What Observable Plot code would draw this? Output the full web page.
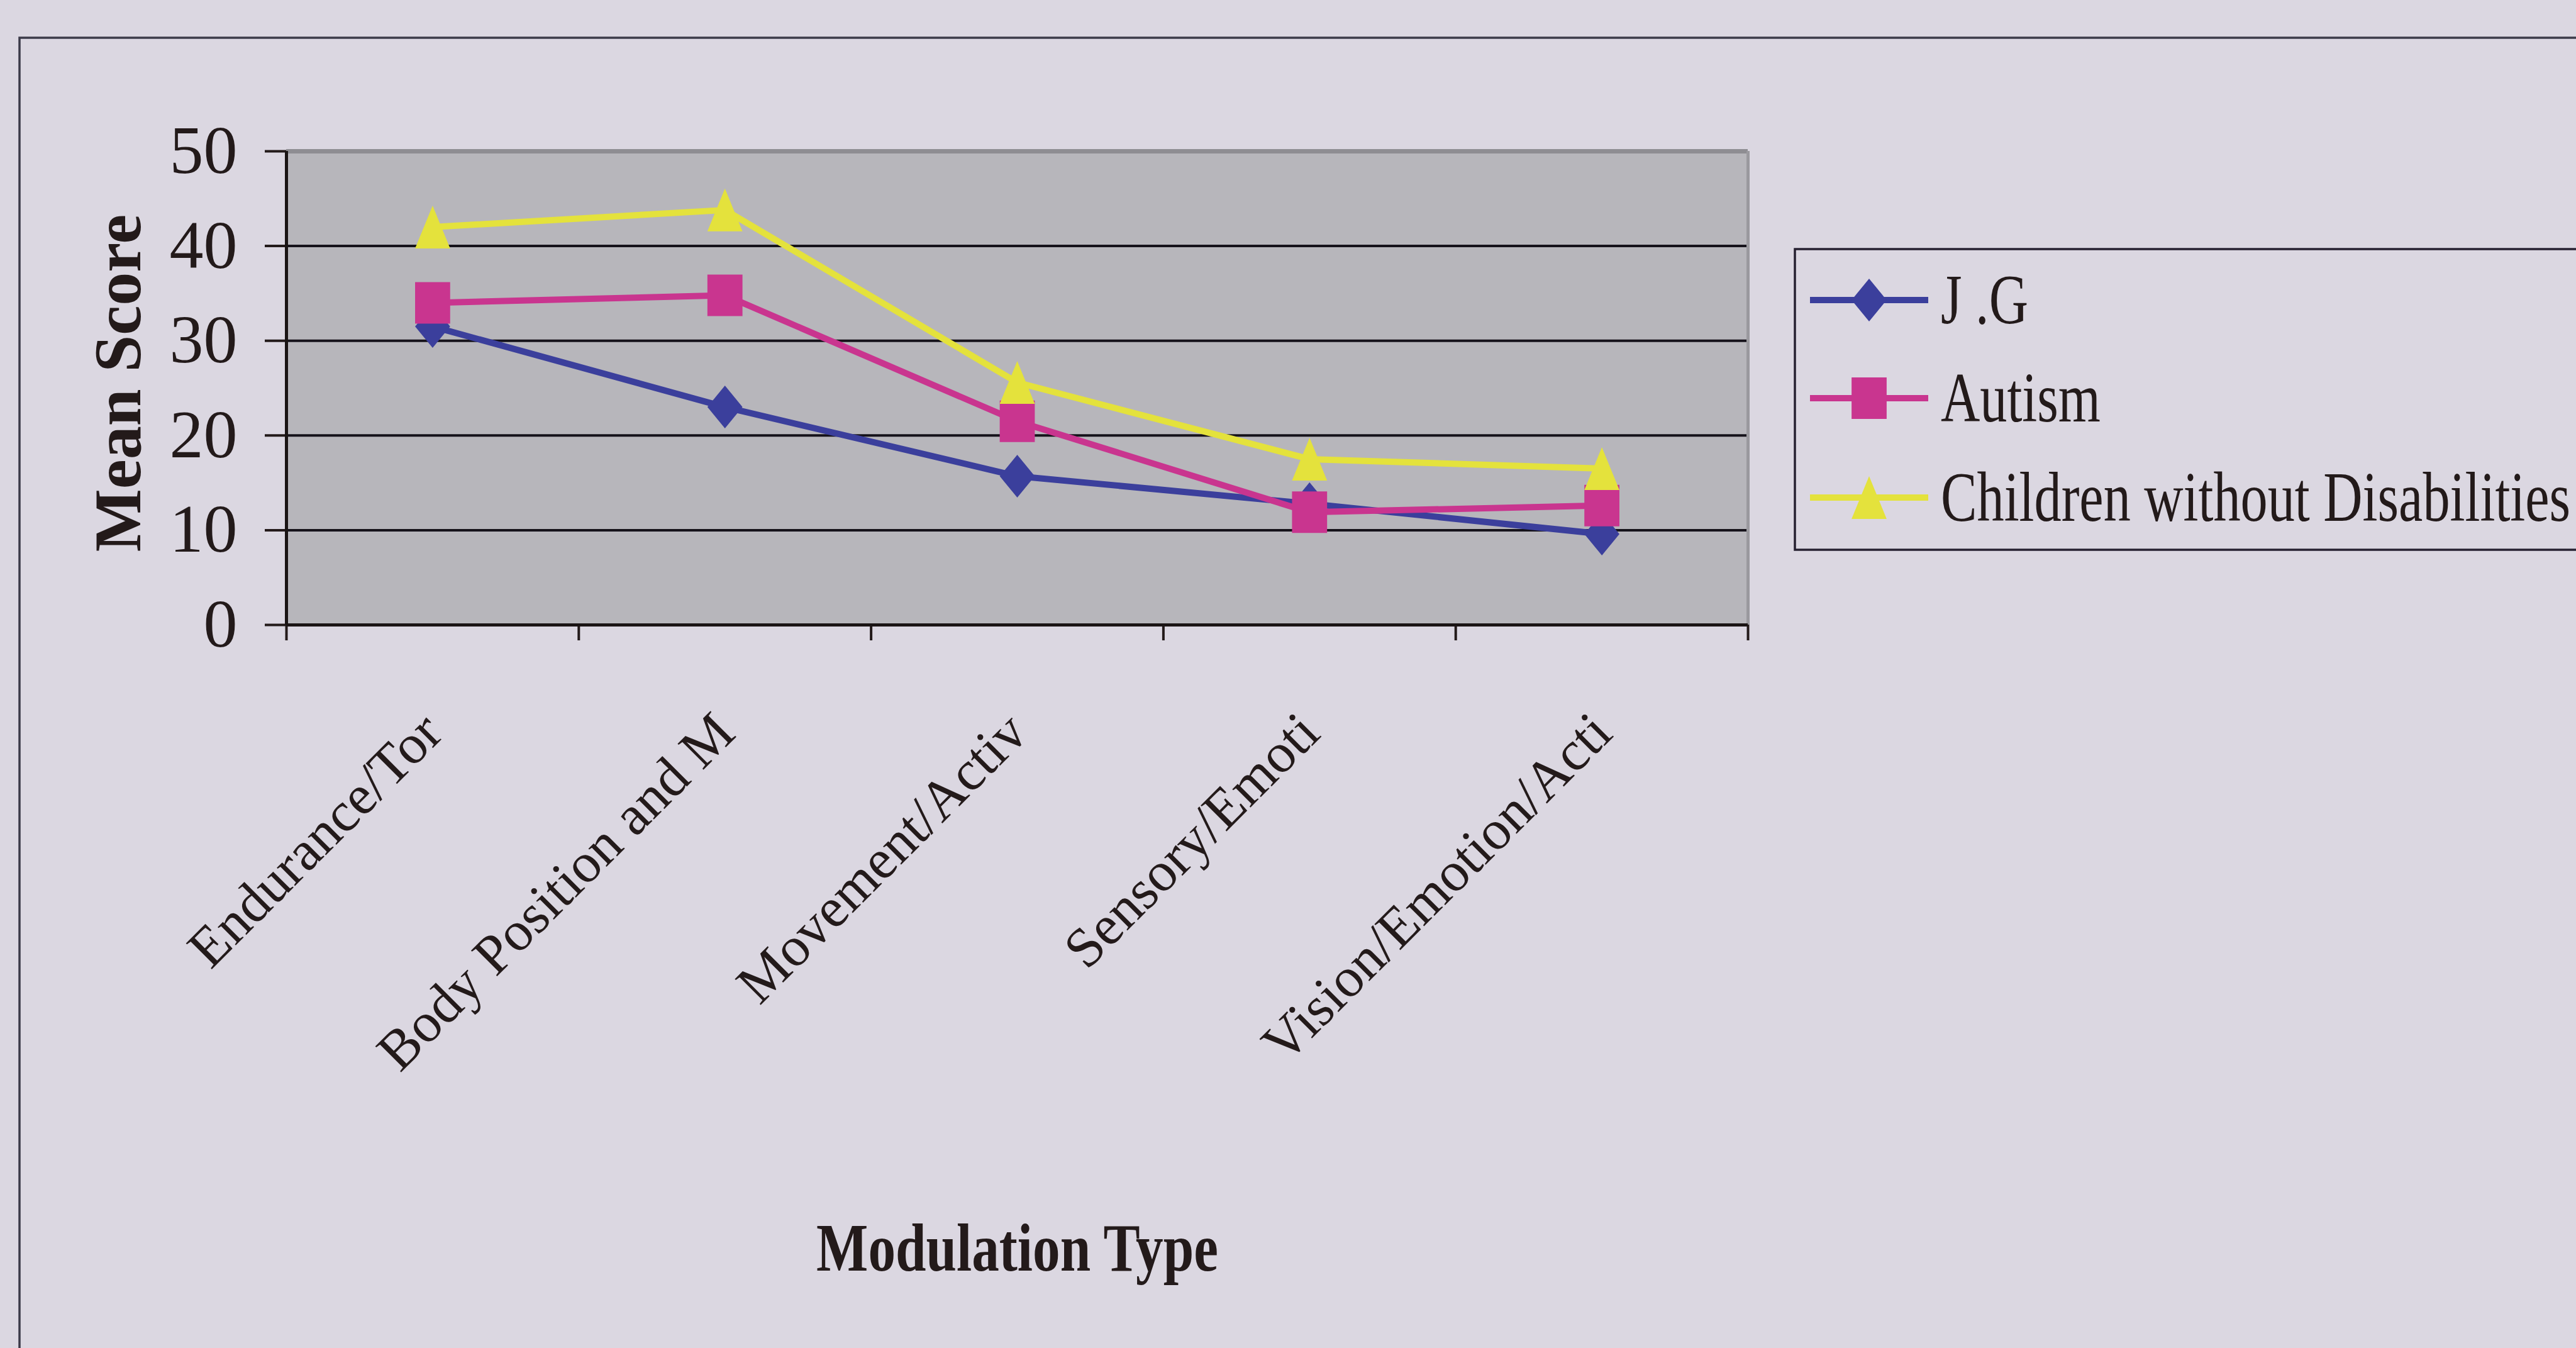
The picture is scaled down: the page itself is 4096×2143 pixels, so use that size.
<!DOCTYPE html>
<html>
<head>
<meta charset="utf-8">
<script src="https://cdn.jsdelivr.net/npm/d3@7"></script>
<script src="https://cdn.jsdelivr.net/npm/@observablehq/plot@0.6"></script>
<style>
  html, body { margin: 0; padding: 0; background: #dbd7e1; overflow: hidden; }
  #chart { position: relative; width: 4096px; height: 2143px; }
</style>
</head>
<body>
<div id="chart"></div>
<script>
// Modulation types (labels shown clipped, as in the worksheet)
const categories = ["Endurance/Tor", "Body Position and M", "Movement/Activ", "Sensory/Emoti", "Vision/Emotion/Acti"];
const seriesNames = ["J .G", "Autism", "Children without Disabilities"];
const jgScores = [31.5, 23, 15.7, 12.8, 9.6];
const autismScores = [34, 34.8, 21.5, 11.9, 12.6];
const typicalScores = [42, 43.8, 25.6, 17.5, 16.5];
const yTicks = [0, 10, 20, 30, 40, 50];
const seriesColors = ["#3b3f9c", "#c9358f", "#e4e23c"];

const W = 4096, H = 2143;
const INK = "#231a1a";
const FONT = "'Liberation Serif', 'Times New Roman', serif";

// Spreadsheet-style markers: slightly taller than wide
const diamond = { draw(ctx, size) { const r = Math.sqrt(size / Math.PI), w = r * 0.82, h = r;
  ctx.moveTo(0, -h); ctx.lineTo(w, 0); ctx.lineTo(0, h); ctx.lineTo(-w, 0); ctx.closePath(); } };
const square = { draw(ctx, size) { const r = Math.sqrt(size / Math.PI), w = r * 0.82, h = r * 0.97;
  ctx.moveTo(-w, -h); ctx.lineTo(w, -h); ctx.lineTo(w, h); ctx.lineTo(-w, h); ctx.closePath(); } };
const triangle = { draw(ctx, size) { const r = Math.sqrt(size / Math.PI), w = r * 0.82, h = r;
  ctx.moveTo(0, -h); ctx.lineTo(w, h); ctx.lineTo(-w, h); ctx.closePath(); } };
const symbols = [diamond, square, triangle];
const markerR = 34;

const seriesValues = [jgScores, autismScores, typicalScores];
const rows = seriesNames.flatMap((name, s) =>
  seriesValues[s].map((v, i) => ({ series: name, pos: i + 0.5, value: v })));

// one line + its markers per series, drawn in series order
const seriesMarks = seriesNames.flatMap(name => {
  const data = rows.filter(d => d.series === name);
  return [
    Plot.line(data, { x: "pos", y: "value", stroke: "series", strokeWidth: 10, strokeLinejoin: "round" }),
    Plot.dot(data, { x: "pos", y: "value", fill: "series", symbol: "series", r: markerR, stroke: null })
  ];
});

const plot = Plot.plot({
  width: W, height: H,
  marginLeft: 455, marginRight: 1317, marginTop: 240, marginBottom: 1150,
  style: { background: "transparent", fontFamily: FONT, color: INK },
  x: { type: "linear", domain: [0, 5] },
  y: { domain: [0, 50] },
  color: { domain: seriesNames, range: seriesColors },
  symbol: { domain: seriesNames, range: symbols },
  marks: [
    Plot.frame({ fill: "#b7b6bb", stroke: null }),
    Plot.gridY(yTicks.filter(t => t > 0 && t < 50), { stroke: "#15121a", strokeOpacity: 1, strokeWidth: 4 }),
    Plot.ruleY([50], { stroke: "#8e8d92", strokeWidth: 7 }),
    Plot.ruleX([5], { stroke: "#9a999e", strokeWidth: 5 }),
    Plot.axisY({ ticks: yTicks, tickSize: 34, tickPadding: 44, fontSize: 108, strokeWidth: 4, label: null }),
    Plot.axisX({ ticks: [0, 1, 2, 3, 4, 5], tickSize: 25, strokeWidth: 4, tickFormat: () => "", label: null }),
    Plot.ruleX([0], { stroke: "#1a1414", strokeWidth: 5 }),
    Plot.ruleY([0], { stroke: "#1a1414", strokeWidth: 5 }),
    ...seriesMarks,
    // category labels under the axis
    Plot.text(categories, { x: (d, i) => i + 0.5, text: d => d, frameAnchor: "bottom", dy: 156,
      rotate: -45, textAnchor: "end", lineAnchor: "middle", fontSize: 89, fill: INK }),
    Plot.text(["Mean Score"], { frameAnchor: "left", dx: -266, dy: -8, rotate: -90,
      textAnchor: "middle", fontSize: 106, fontWeight: "bold", lineAnchor: "middle", fill: INK }),
    Plot.text(["Modulation Type"], { frameAnchor: "bottom", dy: 992,
      fontSize: 109, fontWeight: "bold", lineAnchor: "middle", fill: INK })
  ]
});

document.getElementById("chart").appendChild(plot);

const svg = d3.select(plot);

// outer chart border
svg.insert("rect", ":first-child")
  .attr("x", 31).attr("y", 60).attr("width", 6000).attr("height", 4000)
  .attr("fill", "none").attr("stroke", "#3b3a48").attr("stroke-width", 3.5);

// legend (entries set in a condensed face: horizontal scale 0.77)
const legendRowY = [477, 633, 791];
const lg = svg.append("g").attr("font-family", FONT).attr("text-anchor", "start");
lg.append("rect").attr("x", 2854).attr("y", 396).attr("width", 1600).attr("height", 478)
  .attr("fill", "none").attr("stroke", "#262030").attr("stroke-width", 3.5);
seriesNames.forEach((name, s) => {
  const y = legendRowY[s];
  lg.append("line").attr("x1", 2878).attr("x2", 3066).attr("y1", y).attr("y2", y)
    .attr("stroke", seriesColors[s]).attr("stroke-width", 10);
  lg.append("path").attr("transform", `translate(2972,${y})`)
    .attr("d", d3.symbol(symbols[s], Math.PI * markerR * markerR)())
    .attr("fill", seriesColors[s]);
  lg.append("text").attr("transform", `translate(3086,${y + 37}) scale(0.77,1)`)
    .attr("font-size", 112).attr("text-anchor", "start").attr("fill", INK).text(name);
});

// condensed horizontal axis title
plot.querySelectorAll("text").forEach(t => {
  if (t.textContent === "Modulation Type") {
    const len = t.getComputedTextLength();
    t.setAttribute("textLength", len * 0.8);
    t.setAttribute("lengthAdjust", "spacingAndGlyphs");
  }
});
</script>
</body>
</html>
